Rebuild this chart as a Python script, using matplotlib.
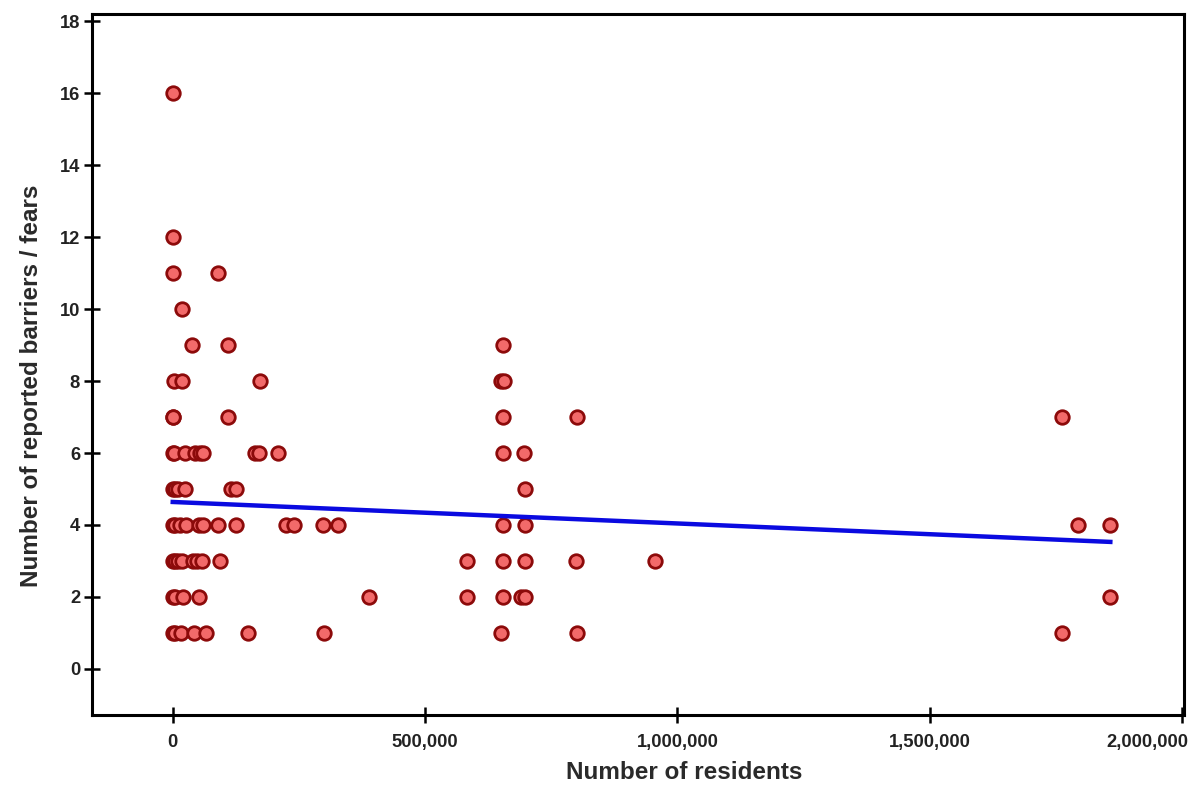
import matplotlib.pyplot as plt
import matplotlib.transforms as mtransforms
from matplotlib.ticker import FuncFormatter

# scatter data, grouped by number of reported barriers
residents = [
    0,
    0,
    0, 89500,
    19000,
    39000, 109000, 655000,
    2500, 18000, 173000, 651000, 656000,
    0, 1500, 109000, 655000, 801000, 1762000,
    0, 3000, 24000, 45000, 55000, 60000, 164000, 170000, 208000, 655000, 696000,
    0, 5000, 10000, 24000, 116000, 126000, 699000,
    0, 5000, 14000, 27000, 53000, 59000, 89000, 126000, 225000, 241000, 298000, 328000,
    654000, 698000, 1793000, 1857000,
    0, 5000, 10000, 18000, 40000, 48000, 57000, 93000, 583000, 654000, 698000, 800000, 955000,
    0, 5000, 20000, 52000, 389000, 583000, 654000, 690000, 698000, 1857000,
    0, 5000, 17000, 42000, 66000, 149000, 299000, 650000, 801000, 1762000,
]
barriers = (
    [16]
    + [12]
    + [11] * 2
    + [10]
    + [9] * 3
    + [8] * 5
    + [7] * 6
    + [6] * 11
    + [5] * 7
    + [4] * 16
    + [3] * 13
    + [2] * 10
    + [1] * 10
)

# fitted trend line endpoints
trend_x = [0, 1858000]
trend_y = [4.64, 3.53]

x_ticks = [0, 500000, 1000000, 1500000, 2000000]
y_ticks = list(range(0, 19, 2))

fig = plt.figure(figsize=(12.02, 8), dpi=100)
ax = fig.add_axes([92 / 1202, 1 - 715 / 800, 1092 / 1202, 701 / 800])

ax.scatter(residents, barriers, s=95, facecolor="#f26a6a", edgecolor="#8c0a0a",
           linewidth=2.0, zorder=3)
ax.plot(trend_x, trend_y, color="#0a0ae0", linewidth=3.2, zorder=4)

ax.set_xlim(-160000, 2004000)
ax.set_ylim(-1.28, 18.2)
ax.set_xticks(x_ticks)
ax.set_yticks(y_ticks)
ax.xaxis.set_major_formatter(FuncFormatter(lambda v, p: f"{int(v):,}"))

for sp in ax.spines.values():
    sp.set_linewidth(2.2)
    sp.set_color("black")

ax.tick_params(direction="inout", length=11, width=1.8, color="black",
               labelsize=13.2, labelcolor="#222222")
ax.tick_params(axis="x", pad=8)
ax.tick_params(axis="y", pad=3)
for lbl in ax.get_xticklabels() + ax.get_yticklabels():
    lbl.set_fontweight("bold")
    lbl.set_fontfamily("Liberation Sans")

# last x label sits to the left of its tick so it stays inside the picture
last = ax.get_xticklabels()[-1]
last.set_horizontalalignment("right")
last.set_transform(last.get_transform() + mtransforms.ScaledTranslation(0.06, 0, fig.dpi_scale_trans))

ax.set_xlabel("Number of residents", fontsize=17.5, fontweight="bold",
              family="Liberation Sans", color="#2a2a2a")
ax.xaxis.set_label_coords(0.542, -0.066)
ax.set_ylabel("Number of reported barriers / fears", fontsize=17.5, fontweight="bold",
              family="Liberation Sans", color="#2a2a2a")
ax.yaxis.set_label_coords(-0.045, 0.469)

fig.savefig("out.png", dpi=100)
